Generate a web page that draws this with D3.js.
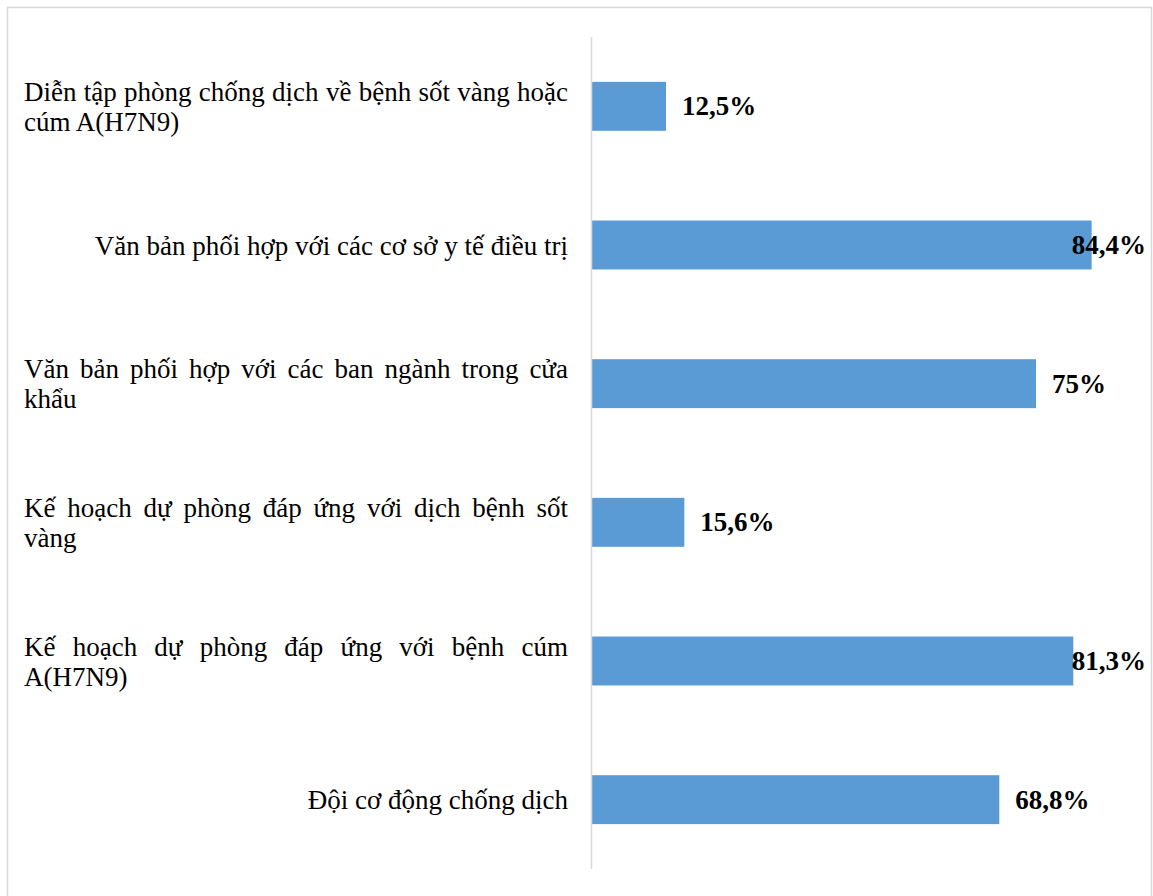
<!DOCTYPE html>
<html>
<head>
<meta charset="utf-8">
<script src="https://cdn.jsdelivr.net/npm/d3@7/dist/d3.min.js"></script>
<style>
  html, body { margin: 0; padding: 0; background: #fff; }
  svg { display: block; }
</style>
</head>
<body>
<svg id="chart" width="1153" height="896"></svg>
<script>
// Category labels, pre-split into display lines
const categories = [
  ["Diễn tập phòng chống dịch về bệnh sốt vàng hoặc", "cúm A(H7N9)"],
  ["Văn bản phối hợp với các cơ sở y tế điều trị"],
  ["Văn bản phối hợp với các ban ngành trong cửa", "khẩu"],
  ["Kế hoạch dự phòng đáp ứng với dịch bệnh sốt", "vàng"],
  ["Kế hoạch dự phòng đáp ứng với bệnh cúm", "A(H7N9)"],
  ["Đội cơ động chống dịch"]
];
const values = [12.5, 84.4, 75, 15.6, 81.3, 68.8];
const valueLabels = ["12,5%", "84,4%", "75%", "15,6%", "81,3%", "68,8%"];

const svg = d3.select("#chart");
const font = "'Liberation Serif', 'Times New Roman', serif";

// outer frame
svg.append("rect")
  .attr("x", 7.5).attr("y", 7.5)
  .attr("width", 1144).attr("height", 900)
  .attr("fill", "#fff").attr("stroke", "#d9d9d9").attr("stroke-width", 1.5);

const plot = { left: 592, top: 37, bottom: 869, right: 1146 };

const x = d3.scaleLinear().domain([0, 100]).range([plot.left, plot.left + 592]);
const y = d3.scaleBand()
  .domain(d3.range(categories.length))
  .range([plot.top, plot.bottom])
  .paddingInner(0.647).paddingOuter(0.3235);

// bars
svg.append("g").selectAll("rect")
  .data(values)
  .join("rect")
  .attr("x", x(0))
  .attr("y", (d, i) => y(i))
  .attr("width", d => x(d) - x(0))
  .attr("height", y.bandwidth())
  .attr("fill", "#5b9bd5");

// vertical category axis line
svg.append("line")
  .attr("x1", plot.left - 0.5).attr("x2", plot.left - 0.5)
  .attr("y1", plot.top).attr("y2", plot.bottom)
  .attr("stroke", "#d9d9d9").attr("stroke-width", 1.5);

// value labels, kept inside the plot's right edge
const vl = svg.append("g").selectAll("text")
  .data(values)
  .join("text")
  .attr("font-family", font)
  .attr("font-size", 27)
  .attr("font-weight", "bold")
  .attr("fill", "#000")
  .attr("y", (d, i) => y(i) + y.bandwidth() / 2 + 9)
  .text((d, i) => valueLabels[i]);
vl.each(function (d) {
  const w = this.getComputedTextLength();
  const xs = Math.min(x(d) + 16, plot.right - w);
  d3.select(this).attr("x", xs);
});

// category labels: justified block, single lines right-aligned
const labelLeft = 24, labelRight = 568, lineH = 30, fs = 27;
const lg = svg.append("g")
  .attr("font-family", font)
  .attr("font-size", fs)
  .attr("fill", "#000");

categories.forEach((lines, i) => {
  const cy = y(i) + y.bandwidth() / 2;
  const n = lines.length;
  const firstBase = cy + 9.5 - (n - 1) * lineH / 2;
  lines.forEach((line, j) => {
    const base = firstBase + j * lineH;
    if (n === 1) {
      lg.append("text").attr("x", labelRight).attr("y", base)
        .attr("text-anchor", "end").text(line);
    } else if (j < n - 1) {
      const words = line.split(" ");
      const nodes = words.map(w => lg.append("text").attr("y", base).text(w));
      const widths = nodes.map(t => t.node().getComputedTextLength());
      const gap = (labelRight - labelLeft - d3.sum(widths)) / (words.length - 1);
      let cx = labelLeft;
      nodes.forEach((t, k) => { t.attr("x", cx); cx += widths[k] + gap; });
    } else {
      lg.append("text").attr("x", labelLeft).attr("y", base).text(line);
    }
  });
});
</script>
</body>
</html>
